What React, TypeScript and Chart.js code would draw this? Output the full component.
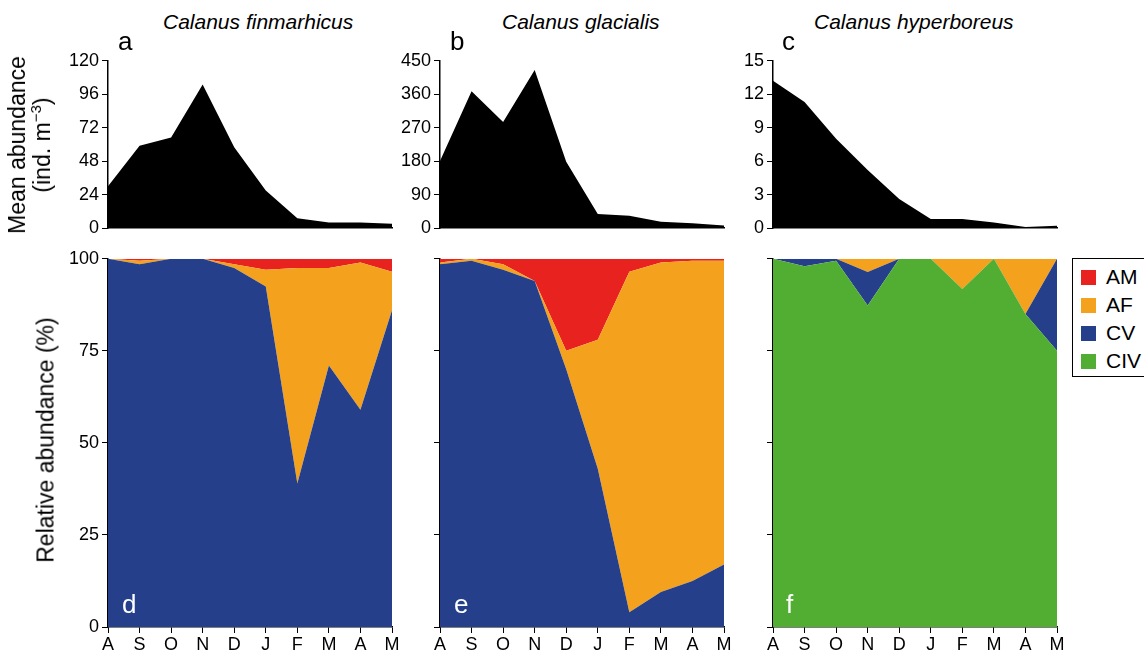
import { useEffect, useRef } from 'react';
import Chart from 'chart.js/auto';
import React from 'react';

const months = ['A', 'S', 'O', 'N', 'D', 'J', 'F', 'M', 'A', 'M'];

const finTotal = [30, 59, 65, 103, 58, 27, 7, 4, 4, 3];
const glaTotal = [180, 368, 285, 425, 178, 38, 33, 17, 13, 7];
const hypTotal = [13.2, 11.3, 8, 5.2, 2.6, 0.8, 0.8, 0.5, 0.1, 0.2];

const finCV = [100, 98.5, 100, 100, 97.5, 92.5, 39, 71, 59, 86];
const finAF = [0, 1, 0, 0, 1, 4.5, 58.5, 26.5, 40, 10.5];
const finAM = [0, 0.5, 0, 0, 1.5, 3, 2.5, 2.5, 1, 3.5];

const glaCV = [98.5, 99.5, 97, 94, 70, 43, 4, 9.5, 12.5, 17];
const glaAF = [0.5, 0.5, 1.5, 0, 5, 35, 92.5, 89.5, 87, 82.5];
const glaAM = [1, 0, 1.5, 6, 25, 22, 3.5, 1, 0.5, 0.5];

const hypCIV = [100, 98, 99.5, 87.3, 100, 100, 91.8, 100, 85, 75];
const hypCV = [0, 2, 0.5, 9.1, 0, 0, 0, 0, 0, 25];
const hypAF = [0, 0, 0, 3.6, 0, 0, 8.2, 0, 15, 0];

const COL = { AM: '#e8231f', AF: '#f4a11e', CV: '#253f8a', CIV: '#52ae32' };
const FONT = '"Liberation Sans", Arial, sans-serif';
const PADL = 60;
const PADB = 40;
const PADT = 7;

interface Series { data: number[]; color: string }
interface PanelProps {
  x: number; y: number; w: number; h: number;
  series: Series[]; max: number; step: number;
  stacked: boolean; xLabels: boolean; yLabels: boolean;
}

const Panel: React.FC<PanelProps> = ({ x, y, w, h, series, max, step, stacked, xLabels, yLabels }) => {
  const canvasRef = useRef<HTMLCanvasElement>(null);
  useEffect(() => {
    if (!canvasRef.current) return;
    const chart = new Chart(canvasRef.current, {
      type: 'line',
      data: {
        labels: months,
        datasets: series.map((s, i) => ({
          data: s.data,
          borderWidth: 0,
          borderColor: s.color,
          backgroundColor: s.color,
          pointRadius: 0,
          tension: 0,
          fill: i === 0 ? 'origin' : '-1'
        }))
      },
      options: {
        animation: false,
        responsive: false,
        layout: { padding: { top: 0, right: 12 } },
        plugins: { legend: { display: false }, tooltip: { enabled: false } },
        scales: {
          x: {
            offset: false,
            grid: { drawOnChartArea: false, drawTicks: xLabels, tickLength: 6, color: '#000', offset: false },
            border: { color: '#000', width: 1.5 },
            ticks: { display: xLabels, color: '#000', font: { family: FONT, size: 18 }, maxRotation: 0, autoSkip: false, padding: 1 },
            afterFit: (s: any) => { s.height = PADB; }
          },
          y: {
            stacked,
            min: 0, max,
            grid: { drawOnChartArea: false, tickLength: 6, color: '#000' },
            border: { color: '#000', width: 1.5 },
            ticks: { stepSize: step, color: yLabels ? '#000' : 'rgba(0,0,0,0)', font: { family: FONT, size: 18 }, padding: 3 },
            afterFit: (s: any) => { s.width = PADL; }
          }
        }
      }
    });
    return () => chart.destroy();
  }, []);
  return (
    <canvas ref={canvasRef} width={w + PADL + 12} height={h + PADB + 10}
      style={{ position: 'absolute', left: x - PADL, top: y - 10 - PADT + 7 }} />
  );
};

const txt = (left: number, top: number, s: React.ReactNode, extra: React.CSSProperties = {}) => (
  <div style={{ position: 'absolute', left, top, fontFamily: FONT, fontSize: 21, whiteSpace: 'nowrap', ...extra }}>{s}</div>
);

const App: React.FC = () => {
  const cols = [108, 440, 773];
  const W = 284;
  return (
    <div style={{ position: 'fixed', left: 0, top: 0, width: 1144, height: 658, background: '#fff', fontFamily: FONT }}>
      <Panel x={cols[0]} y={57} w={W} h={171} series={[{ data: finTotal, color: '#000' }]} max={120} step={24} stacked={false} xLabels={false} yLabels />
      <Panel x={cols[1]} y={57} w={W} h={171} series={[{ data: glaTotal, color: '#000' }]} max={450} step={90} stacked={false} xLabels={false} yLabels />
      <Panel x={cols[2]} y={57} w={W} h={171} series={[{ data: hypTotal, color: '#000' }]} max={15} step={3} stacked={false} xLabels={false} yLabels />
      <Panel x={cols[0]} y={255} w={W} h={372} series={[{ data: finCV, color: COL.CV }, { data: finAF, color: COL.AF }, { data: finAM, color: COL.AM }]} max={100} step={25} stacked xLabels yLabels />
      <Panel x={cols[1]} y={255} w={W} h={372} series={[{ data: glaCV, color: COL.CV }, { data: glaAF, color: COL.AF }, { data: glaAM, color: COL.AM }]} max={100} step={25} stacked xLabels yLabels={false} />
      <Panel x={cols[2]} y={255} w={W} h={372} series={[{ data: hypCIV, color: COL.CIV }, { data: hypCV, color: COL.CV }, { data: hypAF, color: COL.AF }]} max={100} step={25} stacked xLabels yLabels={false} />

      {txt(163, 10, 'Calanus finmarhicus', { fontStyle: 'italic' })}
      {txt(502, 10, 'Calanus glacialis', { fontStyle: 'italic' })}
      {txt(814, 10, 'Calanus hyperboreus', { fontStyle: 'italic' })}
      {txt(118, 26, 'a', { fontSize: 26 })}
      {txt(450, 26, 'b', { fontSize: 26 })}
      {txt(782, 26, 'c', { fontSize: 26 })}
      {txt(122, 589, 'd', { fontSize: 26, color: '#fff' })}
      {txt(454, 589, 'e', { fontSize: 26, color: '#fff' })}
      {txt(786, 589, 'f', { fontSize: 26, color: '#fff' })}

      <div style={{ position: 'absolute', left: 30, top: 145, transform: 'translate(-50%,-50%) rotate(-90deg)', textAlign: 'center', fontSize: 23, lineHeight: '25px', whiteSpace: 'nowrap' }}>
        Mean abundance<br />(ind. m<sup style={{ fontSize: 15, lineHeight: 0 }}>−3</sup>)
      </div>
      <div style={{ position: 'absolute', left: 46, top: 440, transform: 'translate(-50%,-50%) rotate(-90deg)', fontSize: 23, whiteSpace: 'nowrap' }}>
        Relative abundance (%)
      </div>

      <div style={{ position: 'absolute', left: 1072, top: 258, width: 80, height: 119, border: '1px solid #000', boxSizing: 'border-box' }}>
        {(['AM', 'AF', 'CV', 'CIV'] as const).map((k, i) => (
          <div key={k} style={{ position: 'absolute', left: 8, top: 6 + i * 28, display: 'flex', alignItems: 'center' }}>
            <div style={{ width: 15, height: 15, background: COL[k] }} />
            <span style={{ marginLeft: 10, fontSize: 21 }}>{k}</span>
          </div>
        ))}
      </div>
    </div>
  );
};

export default App;
